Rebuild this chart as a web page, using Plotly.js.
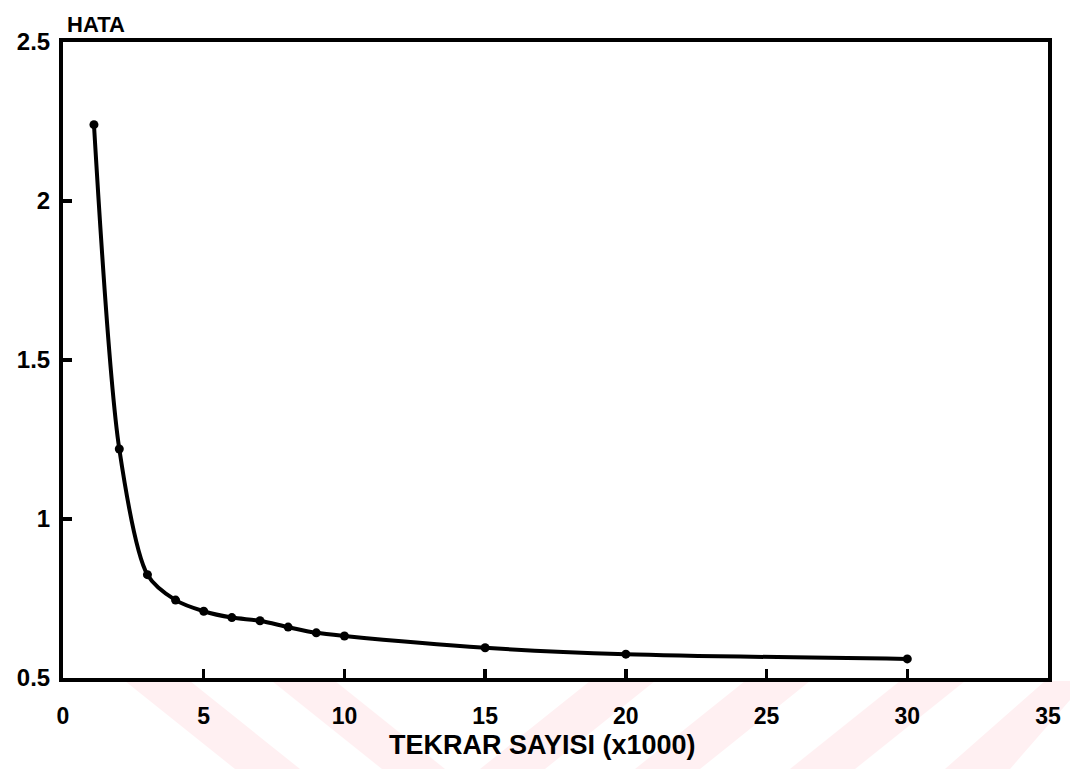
<!DOCTYPE html>
<html>
<head>
<meta charset="utf-8">
<script src="https://cdn.plot.ly/plotly-3.0.1.min.js"></script>
<style>html,body{margin:0;padding:0;background:#fff;}#chart{width:1070px;height:769px;}</style>
</head>
<body>
<div id="chart"></div>
<script>
// Data
const tekrar = [1.1, 2, 3, 4, 5, 6, 7, 8, 9, 10, 15, 20, 30];
const hata   = [2.24, 1.22, 0.825, 0.745, 0.71, 0.69, 0.68, 0.66, 0.642, 0.632, 0.595, 0.575, 0.56];
const xTicks = [0, 5, 10, 15, 20, 25, 30, 35];
const xTickText = ['0', '5', '10', '15', '20', '25', '30', '35'];
const yTicks = [0.5, 1, 1.5, 2, 2.5];
const yTickText = ['0.5', '1', '1.5', '2', '2.5'];
const xTitle = 'TEKRAR SAYISI (x1000)';
const yTitle = 'HATA';

const fontFam = '"Liberation Sans", Arial, sans-serif';
const b = s => '<b>' + s + '</b>';

const trace = {
  x: tekrar, y: hata,
  type: 'scatter', mode: 'lines+markers',
  line: {color: '#000', width: 4, shape: 'spline', smoothing: 0.8},
  marker: {color: '#000', size: 9, symbol: 'circle'},
  hoverinfo: 'skip'
};

// faint pink diagonal watermark stripes in the bottom band (decoration)
const pink = '#fff0f2';
const W = 1070 - 63 - 22, H = 769 - 42 - 91;
function px(x) { return (x - 63) / W; }
function py(y) { return (769 - 91 - y) / H; }
function poly(pts) {
  return {type: 'path', xref: 'paper', yref: 'paper', layer: 'below',
    path: 'M' + pts.map(p => px(p[0]) + ',' + py(p[1])).join('L') + 'Z',
    fillcolor: pink, line: {width: 0}};
}
const shapes = [
  poly([[125,681],[190,681],[300,769],[235,769]]),
  poly([[272,681],[335,681],[445,769],[382,769]]),
  poly([[590,681],[655,681],[545,769],[480,769]]),
  poly([[745,681],[810,681],[700,769],[635,769]]),
  poly([[900,681],[965,681],[855,769],[790,769]]),
  poly([[1045,681],[1070,681],[1070,700],[1010,769],[945,769]])
];

const layout = {
  width: 1070, height: 769,
  margin: {l: 63, r: 22, t: 42, b: 91},
  paper_bgcolor: '#fff', plot_bgcolor: 'rgba(0,0,0,0)',
  showlegend: false,
  font: {family: fontFam, color: '#000'},
  shapes: shapes,
  xaxis: {
    range: [0, 35], tickvals: xTicks, ticktext: xTickText.map(b),
    showgrid: false, zeroline: false,
    showline: true, linewidth: 4, linecolor: '#000', mirror: true,
    ticks: 'inside', ticklen: 9, tickwidth: 3.5, tickcolor: '#000',
    ticklabelstandoff: 14,
    tickfont: {family: fontFam, size: 23, color: '#000', weight: 700}
  },
  yaxis: {
    range: [0.5, 2.5], tickvals: yTicks, ticktext: yTickText.map(b),
    showgrid: false, zeroline: false,
    showline: true, linewidth: 4, linecolor: '#000', mirror: true,
    ticks: 'inside', ticklen: 9, tickwidth: 3.5, tickcolor: '#000',
    ticklabelstandoff: 4,
    tickfont: {family: fontFam, size: 24, color: '#000', weight: 700}
  },
  annotations: [{
    text: b(yTitle), xref: 'paper', yref: 'paper', x: 0, y: 1.0,
    xanchor: 'left', yanchor: 'bottom', yshift: 3, xshift: 2, showarrow: false,
    font: {family: fontFam, size: 22, color: '#000', weight: 700}
  }, {
    text: b(xTitle), xref: 'paper', yref: 'paper', x: 0.487, y: 0,
    xanchor: 'center', yanchor: 'middle', yshift: -67, showarrow: false,
    font: {family: fontFam, size: 27, color: '#000', weight: 700}
  }]
};

Plotly.newPlot('chart', [trace], layout, {displayModeBar: false, staticPlot: true});
</script>
</body>
</html>
